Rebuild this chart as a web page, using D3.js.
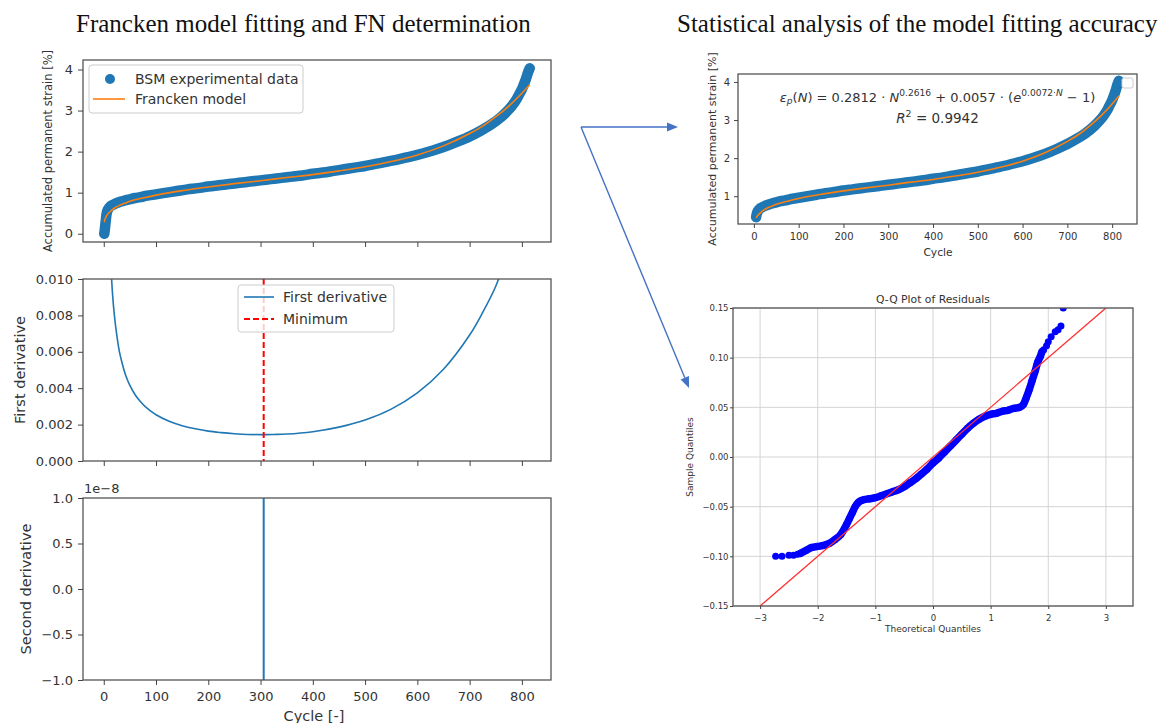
<!DOCTYPE html>
<html lang="en">
<head>
<meta charset="UTF-8">
<title>Francken model fitting and FN determination</title>
<script src="https://d3js.org/d3.v7.min.js"></script>
<style>
  body { margin: 0; background: #fff; }
  svg text { font-family: "DejaVu Sans", sans-serif; fill: #333; white-space: pre; }
  svg text.title { font-family: "Liberation Serif", "Times New Roman", serif; fill: #111; }
</style>
</head>
<body>
<svg width="1164" height="723"></svg>
<script>
// BSM experimental data (cycle, accumulated permanent strain %)
const cycleExp = [1,2,3,4,5,6,7,8,10,12,15,20,25,30,40,50,60,70,80,90,100,120,140,160,180,200,220,240,260,280,300,320,340,360,380,400,420,440,460,480,500,520,540,560,580,600,620,640,660,680,700,720,740,760,770,780,790,795,800,805,808,810,812,814,815];
const strainExp = [0.00,0.10,0.22,0.33,0.45,0.52,0.56,0.59,0.63,0.66,0.69,0.72,0.75,0.77,0.81,0.84,0.87,0.89,0.92,0.94,0.96,1.00,1.04,1.08,1.11,1.15,1.18,1.21,1.24,1.27,1.30,1.33,1.36,1.39,1.42,1.46,1.49,1.53,1.57,1.61,1.65,1.70,1.75,1.80,1.86,1.92,1.99,2.07,2.16,2.26,2.37,2.50,2.65,2.84,2.96,3.10,3.28,3.40,3.52,3.68,3.78,3.86,3.94,4.00,4.03];

// Francken model curve
const cycleFit = [1,2,3,5,7,10,15,20,30,40,50,75,100,150,200,250,300,350,400,450,500,550,600,650,700,725,750,775,800,815];
const strainFit = [0.28,0.34,0.37,0.43,0.47,0.51,0.57,0.62,0.69,0.74,0.79,0.87,0.94,1.05,1.14,1.22,1.29,1.37,1.44,1.53,1.63,1.76,1.92,2.14,2.44,2.62,2.85,3.11,3.42,3.63];

// first derivative
const cycleD1 = [14,15,17,20,25,30,35,40,45,50,60,70,80,90,100,125,150,175,200,225,250,275,300,325,350,400,450,500,550,600,650,700,725,750,760];
const firstDeriv = [0.0104,0.0100,0.0091,0.0081,0.0069,0.0060,0.0054,0.00488,0.00448,0.00415,0.00364,0.00327,0.00297,0.00274,0.00254,0.00218,0.00194,0.00177,0.00164,0.00156,0.0015,0.00146,0.00145,0.00146,0.00148,0.00161,0.00186,0.00225,0.00285,0.00374,0.00504,0.00692,0.00816,0.0096,0.0104];
const firstDerivLim = [0, 0.010];
const minCycle = 306;

// second derivative (only the crossing is inside the view)
const cycleD2 = [306, 306];
const secondDeriv = [-1.2e-8, 1.2e-8];
const secondDerivLim = [-1e-8, 1e-8];

// statistical panel
const fitStart = 5;
const eqCoef = ["0.2812", "0.2616", "0.0057", "0.0072"];
const r2 = "0.9942";

// Q-Q plot of residuals
const qqTheo = [-2.73,-2.62,-2.50,-2.42,-2.35,-2.3,-2.2,-2.1,-2.0,-1.9,-1.8,-1.7,-1.6,-1.5,-1.45,-1.4,-1.35,-1.3,-1.25,-1.2,-1.1,-1.0,-0.9,-0.8,-0.7,-0.6,-0.5,-0.4,-0.3,-0.2,-0.1,0.0,0.1,0.2,0.3,0.4,0.5,0.6,0.7,0.8,0.9,1.0,1.1,1.2,1.3,1.4,1.5,1.57,1.62,1.67,1.72,1.77,1.82,1.86,1.89,1.92,1.97,2.0,2.05,2.12,2.17,2.22,2.26];
const qqSample = [-0.100,-0.100,-0.099,-0.099,-0.098,-0.097,-0.094,-0.091,-0.090,-0.089,-0.087,-0.083,-0.078,-0.068,-0.062,-0.056,-0.050,-0.046,-0.044,-0.043,-0.042,-0.041,-0.039,-0.037,-0.035,-0.033,-0.030,-0.026,-0.022,-0.017,-0.012,-0.006,-0.001,0.005,0.011,0.017,0.023,0.029,0.034,0.038,0.041,0.043,0.044,0.046,0.047,0.049,0.050,0.053,0.060,0.068,0.077,0.086,0.096,0.101,0.106,0.108,0.112,0.116,0.121,0.126,0.128,0.132,0.150];
const qqLineX = [-3, 3];
const qqLineY = [-0.15, 0.15];
const qqXLim = [-3.47, 3.47];
const qqYLim = [-0.15, 0.15];

const cycleTicks = [0,100,200,300,400,500,600,700,800];

const blue = "#1f77b4", orange = "#ff7f0e";
const svg = d3.select("svg");
const defs = svg.append("defs");

function pad5(ext) { const d = (ext[1] - ext[0]) * 0.05; return [ext[0] - d, ext[1] + d]; }

let clipN = 0;
function makePanel(box, xDom, yDom) {
  const x = d3.scaleLinear().domain(xDom).range([box.x0, box.x1]);
  const y = d3.scaleLinear().domain(yDom).range([box.y1, box.y0]);
  const id = "clip" + (clipN++);
  defs.append("clipPath").attr("id", id).append("rect")
    .attr("x", box.x0).attr("y", box.y0).attr("width", box.x1 - box.x0).attr("height", box.y1 - box.y0);
  const g = svg.append("g");
  const under = g.append("g");
  const plot = g.append("g").attr("clip-path", `url(#${id})`);
  return {x, y, box, g, under, plot};
}

function frame(p) {
  p.g.append("rect")
    .attr("x", p.box.x0).attr("y", p.box.y0)
    .attr("width", p.box.x1 - p.box.x0).attr("height", p.box.y1 - p.box.y0)
    .attr("fill", "none").attr("stroke", "#555").attr("stroke-width", 1.3);
}

function styleAxis(g, font) {
  g.select(".domain").remove();
  g.attr("font-family", "DejaVu Sans").attr("font-size", font).attr("color", "#333");
  g.selectAll("line").attr("stroke", "#444").attr("stroke-width", 1);
}

function xAxis(p, ticks, o) {
  const ax = d3.axisBottom(p.x).tickValues(ticks).tickSize(o.size).tickPadding(o.pad)
    .tickFormat(o.fmt ? o.fmt : () => "");
  const g = p.g.append("g").attr("transform", `translate(0,${p.box.y1})`).call(ax);
  styleAxis(g, o.font);
}

function yAxis(p, ticks, o) {
  const ax = d3.axisLeft(p.y).tickValues(ticks).tickSize(o.size).tickPadding(o.pad).tickFormat(o.fmt);
  const g = p.g.append("g").attr("transform", `translate(${p.box.x0},0)`).call(ax);
  styleAxis(g, o.font);
}

function label(x, y, txt, size, rotate, anchor) {
  const t = svg.append("text").attr("font-size", size).attr("text-anchor", anchor || "middle").text(txt);
  if (rotate) t.attr("transform", `translate(${x},${y}) rotate(-90)`).attr("dy", "0.35em");
  else t.attr("x", x).attr("y", y);
  return t;
}

function richText(x, y, size, parts) {
  const t = svg.append("text").attr("x", x).attr("y", y).attr("font-size", size).attr("text-anchor", "middle");
  let shift = 0;
  parts.forEach(pt => {
    const target = pt.sup ? -size * 0.42 : pt.sub ? size * 0.22 : 0;
    const s = t.append("tspan").attr("dy", target - shift).text(pt.t);
    shift = target;
    if (pt.it) s.attr("font-style", "italic");
    if (pt.sup || pt.sub) s.attr("font-size", size * 0.7);
  });
  return t;
}

function legendBox(x, y, w, h) {
  svg.append("rect").attr("x", x).attr("y", y).attr("width", w).attr("height", h).attr("rx", 3)
    .attr("fill", "#fff").attr("fill-opacity", 0.8).attr("stroke", "#ccc").attr("stroke-width", 1);
}

const expPts = cycleExp.map((c, i) => [c, strainExp[i]]);
const fitPts = cycleFit.map((c, i) => [c, strainFit[i]]);

function strainPanel(p, pts, fit, r, band) {
  const line = d3.line().x(d => p.x(d[0])).y(d => p.y(d[1])).curve(d3.curveMonotoneX);
  p.plot.append("path").attr("d", line(pts)).attr("fill", "none").attr("stroke", blue)
    .attr("stroke-width", band).attr("stroke-linecap", "round").attr("stroke-linejoin", "round");
  p.plot.append("g").selectAll("circle").data(pts).join("circle")
    .attr("cx", d => p.x(d[0])).attr("cy", d => p.y(d[1])).attr("r", r).attr("fill", blue);
  p.plot.append("path").attr("d", line(fit)).attr("fill", "none").attr("stroke", orange).attr("stroke-width", 1.6);
}

// ---------- titles ----------
svg.append("text").attr("class", "title").attr("x", 76).attr("y", 32).attr("font-size", 25)
  .text("Francken model fitting and FN determination");
svg.append("text").attr("class", "title").attr("x", 677).attr("y", 32).attr("font-size", 25)
  .text("Statistical analysis of the model fitting accuracy");

// ---------- top-left: strain ----------
const xLeft = pad5(d3.extent(cycleExp));
const TL = makePanel({x0: 83, x1: 551, y0: 60, y1: 242}, xLeft, pad5(d3.extent(strainExp)));
strainPanel(TL, expPts, fitPts, 4.5, 10.5);
frame(TL);
xAxis(TL, cycleTicks, {size: 5, pad: 7, font: 13});
yAxis(TL, [0,1,2,3,4], {size: 5, pad: 5, font: 13, fmt: d3.format("d")});
label(48, 151, "Accumulated permanent strain [%]", 11.5, true);
legendBox(89, 65, 214, 48);
svg.append("circle").attr("cx", 110).attr("cy", 79).attr("r", 5).attr("fill", blue);
label(135, 84, "BSM experimental data", 14, false, "start");
svg.append("line").attr("x1", 93).attr("x2", 125).attr("y1", 99).attr("y2", 99).attr("stroke", orange).attr("stroke-width", 1.6);
label(135, 104, "Francken model", 14, false, "start");

// ---------- middle-left: first derivative ----------
const ML = makePanel({x0: 83, x1: 551, y0: 279, y1: 461}, xLeft, firstDerivLim);
ML.plot.append("path")
  .attr("d", d3.line().x((d, i) => ML.x(cycleD1[i])).y(d => ML.y(d)).curve(d3.curveCatmullRom.alpha(0.5))(firstDeriv))
  .attr("fill", "none").attr("stroke", blue).attr("stroke-width", 1.6);
ML.plot.append("line").attr("x1", ML.x(minCycle)).attr("x2", ML.x(minCycle))
  .attr("y1", ML.box.y0).attr("y2", ML.box.y1)
  .attr("stroke", "#ff0000").attr("stroke-width", 2).attr("stroke-dasharray", "6,3");
frame(ML);
xAxis(ML, cycleTicks, {size: 5, pad: 7, font: 13});
yAxis(ML, d3.range(0, 0.0101, 0.002), {size: 5, pad: 5, font: 13, fmt: d3.format(".3f")});
label(20, 370, "First derivative", 14.5, true);
legendBox(238, 285, 156, 47);
svg.append("line").attr("x1", 244).attr("x2", 274).attr("y1", 297).attr("y2", 297).attr("stroke", blue).attr("stroke-width", 1.6);
label(283, 302, "First derivative", 14, false, "start");
svg.append("line").attr("x1", 244).attr("x2", 274).attr("y1", 319).attr("y2", 319)
  .attr("stroke", "#ff0000").attr("stroke-width", 2).attr("stroke-dasharray", "6,3");
label(283, 324, "Minimum", 14, false, "start");

// ---------- bottom-left: second derivative ----------
const BL = makePanel({x0: 83, x1: 551, y0: 498, y1: 680}, xLeft, secondDerivLim);
BL.plot.append("path")
  .attr("d", d3.line().x((d, i) => BL.x(cycleD2[i])).y(d => BL.y(d))(secondDeriv))
  .attr("fill", "none").attr("stroke", blue).attr("stroke-width", 2);
frame(BL);
xAxis(BL, cycleTicks, {size: 5, pad: 7, font: 13, fmt: d3.format("d")});
yAxis(BL, [-1, -0.5, 0, 0.5, 1].map(v => v * 1e-8), {size: 5, pad: 5, font: 13, fmt: v => d3.format(".1f")(v / 1e-8)});
label(84, 493, "1e\u22128", 13, false, "start");
label(26, 589, "Second derivative", 14.5, true);
label(314, 721, "Cycle [-]", 14.5);

// ---------- top-right: fitted model ----------
const expR = expPts.filter(d => d[0] >= fitStart);
const fitR = fitPts.filter(d => d[0] >= fitStart);
const TR = makePanel({x0: 738, x1: 1137, y0: 74, y1: 224},
  pad5(d3.extent(expR, d => d[0])), pad5(d3.extent(expR, d => d[1])));
strainPanel(TR, expR, fitR, 4.5, 10.5);
frame(TR);
xAxis(TR, cycleTicks, {size: 4, pad: 5, font: 10, fmt: d3.format("d")});
yAxis(TR, [1,2,3,4], {size: 4, pad: 4, font: 10, fmt: d3.format("d")});
label(712, 149, "Accumulated permanent strain [%]", 11, true);
label(938, 256, "Cycle", 10.7);
svg.append("rect").attr("x", 1122).attr("y", 78).attr("width", 11).attr("height", 10).attr("rx", 2)
  .attr("fill", "#fff").attr("stroke", "#ccc");
const eqX = (TR.box.x0 + TR.box.x1) / 2;
richText(eqX, 101.5, 13, [
  {t: "\u03b5", it: true}, {t: "p", it: true, sub: true}, {t: "("}, {t: "N", it: true},
  {t: ") = " + eqCoef[0] + " \u00b7 "}, {t: "N", it: true}, {t: eqCoef[1], sup: true},
  {t: " + " + eqCoef[2] + " \u00b7 ("}, {t: "e", it: true}, {t: eqCoef[3] + "\u00b7", sup: true}, {t: "N", it: true, sup: true},
  {t: " \u2212 1)"}
]);
richText(eqX, 123, 13.5, [{t: "R", it: true}, {t: "2", sup: true}, {t: " = " + r2}]);

// ---------- Q-Q plot ----------
const QQ = makePanel({x0: 733, x1: 1133, y0: 308, y1: 606}, qqXLim, qqYLim);
const qxT = [-3,-2,-1,0,1,2,3], qyT = [-0.15,-0.10,-0.05,0,0.05,0.10,0.15];
QQ.under.selectAll("line.gx").data(qxT).join("line").attr("class", "gx")
  .attr("x1", d => QQ.x(d)).attr("x2", d => QQ.x(d)).attr("y1", QQ.box.y0).attr("y2", QQ.box.y1)
  .attr("stroke", "#d4d4d4").attr("stroke-width", 1);
QQ.under.selectAll("line.gy").data(qyT).join("line").attr("class", "gy")
  .attr("y1", d => QQ.y(d)).attr("y2", d => QQ.y(d)).attr("x1", QQ.box.x0).attr("x2", QQ.box.x1)
  .attr("stroke", "#d4d4d4").attr("stroke-width", 1);
const qqPts = qqTheo.map((t, i) => [t, qqSample[i]]);
const dense = qqPts.filter(d => d[0] >= -2.3 && d[0] <= 1.89);
QQ.plot.append("path")
  .attr("d", d3.line().x(d => QQ.x(d[0])).y(d => QQ.y(d[1])).curve(d3.curveMonotoneX)(dense))
  .attr("fill", "none").attr("stroke", "#0000ff").attr("stroke-width", 7.5)
  .attr("stroke-linecap", "round").attr("stroke-linejoin", "round");
QQ.plot.append("g").selectAll("circle").data(qqPts).join("circle")
  .attr("cx", d => QQ.x(d[0])).attr("cy", d => QQ.y(d[1])).attr("r", 3.5).attr("fill", "#0000ff");
QQ.plot.append("line").attr("x1", QQ.x(qqLineX[0])).attr("x2", QQ.x(qqLineX[1]))
  .attr("y1", QQ.y(qqLineY[0])).attr("y2", QQ.y(qqLineY[1]))
  .attr("stroke", "#ff3030").attr("stroke-width", 1.3);
frame(QQ);
xAxis(QQ, qxT, {size: 3, pad: 6, font: 8.5, fmt: d3.format("d")});
yAxis(QQ, qyT, {size: 3, pad: 1.5, font: 8.5, fmt: d3.format(".2f")});
label(933, 302.5, "Q-Q Plot of Residuals", 10.8);
label(933, 631.5, "Theoretical Quantiles", 9);
label(690, 457, "Sample Quantiles", 9, true);

// ---------- connector arrows ----------
const arrowFrom = [581, 127];
const arrowTips = [[678, 127], [689, 388]];
arrowTips.forEach(tip => {
  const ang = Math.atan2(tip[1] - arrowFrom[1], tip[0] - arrowFrom[0]);
  const L = 11, W = 4.5;
  const bx = tip[0] - L * Math.cos(ang), by = tip[1] - L * Math.sin(ang);
  svg.append("line").attr("x1", arrowFrom[0]).attr("y1", arrowFrom[1]).attr("x2", bx).attr("y2", by)
    .attr("stroke", "#4472c4").attr("stroke-width", 1.4);
  svg.append("polygon").attr("fill", "#4472c4").attr("points", [
    tip,
    [bx + W * Math.sin(ang), by - W * Math.cos(ang)],
    [bx - W * Math.sin(ang), by + W * Math.cos(ang)]
  ].map(p => p.join(",")).join(" "));
});
</script>
</body>
</html>
